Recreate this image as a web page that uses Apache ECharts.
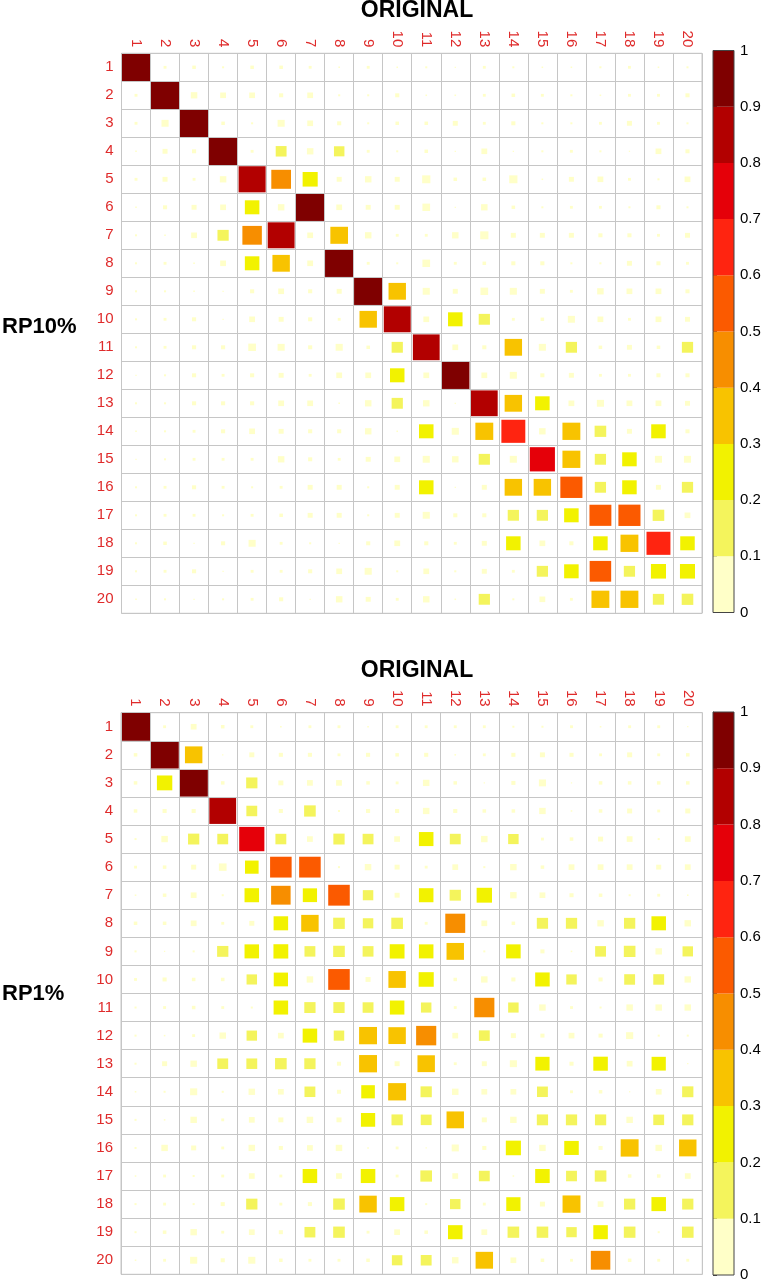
<!DOCTYPE html>
<html><head><meta charset="utf-8">
<script src="https://cdn.jsdelivr.net/npm/echarts@6/dist/echarts.min.js"></script>
<style>html,body{margin:0;padding:0;background:#fff}#c{width:769px;height:1280px}</style>
</head><body><div id="c"></div>
<script>
const labels = ['1','2','3','4','5','6','7','8','9','10','11','12','13','14','15','16','17','18','19','20'];
const colorTicks = ['0','0.1','0.2','0.3','0.4','0.5','0.6','0.7','0.8','0.9','1'];
const binColors = ['#FFFFC8','#F4F45C','#F2F200','#F8C300','#F78E00','#FB5A00','#FF2410','#E50009','#B20000','#7F0000'];

const rp10 = [
[1,.01,.015,.005,.015,.015,.01,.003,.01,.003,.005,.002,.01,.005,.003,.003,.005,.01,.003,.005],
[.01,1,.05,.04,.04,.02,.04,.005,.005,.02,.003,.003,.01,.015,.01,.005,.003,.01,.01,.02],
[.01,.06,1,.015,.005,.06,.04,.02,.005,.015,.015,.03,.01,.02,.005,.005,.01,.03,.01,.005],
[.003,.03,.02,1,.01,.14,.05,.13,.01,.005,.015,.002,.04,.002,.005,.01,.005,.002,.04,.02],
[.01,.03,.01,.05,.87,.46,.27,.03,.05,.03,.08,.015,.015,.08,.003,.03,.04,.01,.005,.04],
[.003,.02,.03,.04,.25,.05,.95,.04,.03,.03,.07,.002,.05,.015,.005,.01,.01,.005,.02,.005],
[.005,.003,.04,.15,.45,.86,.04,.37,.05,.01,.01,.05,.08,.03,.03,.03,.02,.02,.01,.03],
[.005,.01,.003,.04,.25,.36,.04,.95,.01,.005,.07,.01,.015,.02,.02,.005,.005,.03,.02,.01],
[.005,.005,.003,.002,.02,.04,.02,.03,.95,.36,.06,.03,.07,.06,.03,.01,.05,.04,.04,.02],
[.005,.01,.02,.002,.04,.03,.02,.01,.36,.86,.04,.25,.15,.01,.015,.06,.04,.01,.04,.03],
[.005,.01,.02,.02,.07,.06,.02,.06,.015,.15,.85,.04,.02,.36,.06,.15,.015,.03,.015,.15],
[.002,.005,.02,.01,.02,.03,.01,.04,.04,.25,.04,.95,.04,.06,.02,.03,.01,.01,.02,.02],
[.005,.005,.02,.02,.02,.04,.04,.003,.05,.15,.05,.002,.85,.36,.25,.04,.06,.04,.04,.03],
[.003,.005,.01,.02,.04,.03,.02,.02,.05,.003,.25,.06,.38,.68,.05,.38,.16,.03,.25,.02],
[.002,.005,.01,.01,.01,.05,.02,.01,.03,.04,.06,.05,.15,.06,.75,.38,.15,.25,.06,.06],
[.005,.01,.02,.01,.005,.01,.03,.03,.005,.03,.25,.002,.03,.36,.36,.58,.15,.25,.03,.15],
[.005,.01,.01,.005,.01,.015,.03,.03,.005,.03,.06,.02,.02,.15,.15,.25,.57,.58,.16,.04],
[.005,.015,.002,.02,.06,.01,.005,.002,.02,.04,.02,.01,.03,.25,.04,.02,.25,.38,.68,.25],
[.005,.01,.02,.002,.01,.01,.02,.04,.06,.005,.04,.005,.03,.01,.15,.25,.55,.15,.27,.27],
[.003,.005,.002,.005,.01,.02,.002,.05,.03,.01,.05,.003,.15,.005,.04,.01,.38,.38,.15,.16]
];

const rp1 = [
[1,.01,.04,.015,.01,.003,.01,.01,.003,.01,.01,.01,.01,.005,.005,.01,.003,.01,.01,.002],
[.015,.95,.36,.002,.03,.02,.02,.01,.02,.015,.02,.003,.01,.02,.03,.02,.01,.03,.01,.015],
[.015,.28,.95,.015,.15,.03,.04,.04,.015,.01,.05,.015,.002,.02,.06,.002,.015,.015,.015,.015],
[.015,.02,.02,.85,.14,.02,.16,.005,.02,.02,.05,.02,.015,.015,.05,.003,.015,.03,.01,.03],
[.005,.05,.15,.14,.75,.14,.04,.15,.14,.04,.25,.14,.05,.13,.01,.015,.03,.04,.005,.04],
[.01,.015,.03,.07,.22,.55,.55,.005,.05,.03,.01,.04,.005,.05,.015,.04,.04,.04,.03,.04],
[.003,.015,.04,.005,.25,.45,.24,.55,.13,.03,.25,.15,.28,.05,.04,.02,.015,.005,.01,.003],
[.015,.015,.04,.01,.03,.25,.36,.16,.13,.16,.01,.47,.04,.015,.15,.15,.05,.15,.25,.05],
[.005,.002,.005,.15,.25,.26,.14,.16,.14,.26,.25,.36,.005,.25,.02,.003,.14,.16,.05,.13],
[.01,.02,.015,.015,.13,.24,.05,.55,.03,.36,.27,.015,.05,.02,.25,.13,.02,.14,.14,.05],
[.005,.01,.015,.01,.005,.25,.15,.15,.14,.25,.13,.01,.48,.13,.05,.01,.005,.05,.05,.05],
[.005,.003,.01,.05,.13,.04,.25,.13,.38,.36,.48,.04,.14,.03,.02,.04,.02,.06,.005,.005],
[.005,.03,.05,.14,.14,.16,.15,.02,.38,.03,.36,.01,.03,.06,.24,.02,.25,.04,.24,.002],
[.003,.005,.06,.005,.05,.04,.14,.02,.22,.38,.15,.05,.04,.04,.14,.01,.015,.002,.04,.15],
[.005,.003,.05,.01,.04,.03,.05,.03,.24,.15,.14,.36,.03,.05,.15,.15,.15,.05,.14,.15],
[.005,.05,.03,.01,.05,.02,.04,.05,.003,.01,.002,.06,.02,.27,.05,.25,.02,.38,.05,.36],
[.003,.01,.005,.01,.04,.01,.25,.04,.25,.01,.16,.04,.14,.003,.25,.14,.16,.015,.015,.04],
[.005,.01,.005,.02,.15,.01,.02,.16,.36,.25,.005,.13,.01,.24,.03,.38,.04,.15,.25,.15],
[.005,.015,.05,.01,.04,.02,.14,.16,.01,.04,.015,.25,.04,.16,.16,.13,.25,.16,.005,.16],
[.003,.01,.06,.02,.06,.015,.01,.01,.015,.13,.14,.05,.36,.04,.015,.01,.45,.015,.01,.01]
];

const RED = '#DF2B2B';
const GRIDC = '#C6C6C6';
const FONT = 'Liberation Sans, Arial, sans-serif';

function toCells(m) {
  const out = [];
  m.forEach((row, i) => row.forEach((v, j) => out.push([j, i, v])));
  return out;
}
function binOf(v) { return Math.max(0, Math.min(9, Math.floor(v * 10 + 1e-9))); }

function renderSquare(params, api) {
  const v = api.value(2);
  const c = api.coord([api.value(0), api.value(1)]);
  const s = api.size([1, 1]);
  const k = Math.sqrt(Math.abs(v));
  const w = s[0] * k, h = s[1] * k;
  return {
    type: 'rect',
    shape: { x: c[0] - w / 2, y: c[1] - h / 2, width: w, height: h },
    style: { fill: binColors[binOf(v)] }
  };
}
function renderBin(params, api) {
  const p0 = api.coord([0, api.value(0)]);
  const p1 = api.coord([1, api.value(1)]);
  return {
    type: 'rect',
    shape: { x: p0[0], y: p1[1], width: p1[0] - p0[0], height: p0[1] - p1[1] },
    style: { fill: binColors[api.value(2)] }
  };
}
function renderOutline(params, api) {
  const p0 = api.coord([0, api.value(0)]);
  const p1 = api.coord([1, api.value(1)]);
  return {
    type: 'rect',
    shape: { x: p0[0], y: p1[1], width: p1[0] - p0[0], height: p0[1] - p1[1] },
    style: { fill: 'none', stroke: '#444', lineWidth: 1 }
  };
}

const binData = binColors.map((c, i) => [i / 10, (i + 1) / 10, i]);

const grids = [
  { left: 121.5, top: 53.3, width: 580.5, height: 560 },
  { left: 121, top: 712.7, width: 581.3, height: 561.6 },
  { left: 713, top: 50.5, width: 21, height: 562 },
  { left: 713, top: 712, width: 21, height: 563 }
].map(g => Object.assign({ show: false, containLabel: false, outerBoundsMode: 'none' }, g));
grids[0].show = true; grids[1].show = true;
grids[0].borderColor = GRIDC; grids[1].borderColor = GRIDC;

function matX(gi) {
  return {
    type: 'category', gridIndex: gi, data: labels, position: 'top', z: 5,
    axisLine: { show: false }, axisTick: { show: false },
    axisLabel: { rotate: 90, interval: 0, margin: 6, color: RED, fontSize: 15, fontFamily: FONT },
    splitLine: { show: true, interval: 0, lineStyle: { color: GRIDC, width: 1 } }
  };
}
function matY(gi) {
  return {
    type: 'category', gridIndex: gi, data: labels, inverse: true, z: 5,
    axisLine: { show: false }, axisTick: { show: false },
    axisLabel: { interval: 0, margin: 8, color: RED, fontSize: 15, fontFamily: FONT },
    splitLine: { show: true, interval: 0, lineStyle: { color: GRIDC, width: 1 } }
  };
}
function barX(gi) {
  return { type: 'value', gridIndex: gi, min: 0, max: 1, show: false };
}
function barY(gi) {
  return {
    type: 'value', gridIndex: gi, min: 0, max: 1, interval: 0.1, position: 'right',
    axisLine: { show: true, lineStyle: { color: '#444' } },
    axisTick: { show: true, length: 4, lineStyle: { color: '#444' } },
    axisLabel: { color: '#000', fontSize: 15, margin: 6, fontFamily: FONT,
      formatter: v => colorTicks[Math.round(v * 10)] },
    splitLine: { show: false }
  };
}

const chart = echarts.init(document.getElementById('c'), null, { renderer: 'canvas' });
chart.setOption({
  animation: false,
  backgroundColor: '#fff',
  grid: grids,
  xAxis: [matX(0), matX(1), barX(2), barX(3)],
  yAxis: [matY(0), matY(1), barY(2), barY(3)],
  graphic: [
    { type: 'text', x: 417, y: 11, style: { text: 'ORIGINAL', font: 'bold 23px ' + FONT, fill: '#000', textAlign: 'center', textVerticalAlign: 'middle' } },
    { type: 'text', x: 417, y: 671, style: { text: 'ORIGINAL', font: 'bold 23px ' + FONT, fill: '#000', textAlign: 'center', textVerticalAlign: 'middle' } },
    { type: 'text', x: 2, y: 327, style: { text: 'RP10%', font: 'bold 22px ' + FONT, fill: '#000', textAlign: 'left', textVerticalAlign: 'middle' } },
    { type: 'text', x: 2, y: 994, style: { text: 'RP1%', font: 'bold 22px ' + FONT, fill: '#000', textAlign: 'left', textVerticalAlign: 'middle' } }
  ],
  series: [
    { type: 'custom', xAxisIndex: 0, yAxisIndex: 0, z: 2, renderItem: renderSquare, data: toCells(rp10), encode: { x: 0, y: 1 } },
    { type: 'custom', xAxisIndex: 1, yAxisIndex: 1, z: 2, renderItem: renderSquare, data: toCells(rp1), encode: { x: 0, y: 1 } },
    { type: 'custom', xAxisIndex: 2, yAxisIndex: 2, renderItem: renderBin, data: binData, encode: { y: [0, 1] } },
    { type: 'custom', xAxisIndex: 3, yAxisIndex: 3, renderItem: renderBin, data: binData, encode: { y: [0, 1] } },
    { type: 'custom', xAxisIndex: 2, yAxisIndex: 2, z: 3, renderItem: renderOutline, data: [[0, 1]], encode: { y: [0, 1] } },
    { type: 'custom', xAxisIndex: 3, yAxisIndex: 3, z: 3, renderItem: renderOutline, data: [[0, 1]], encode: { y: [0, 1] } }
  ]
});
</script>
</body></html>
